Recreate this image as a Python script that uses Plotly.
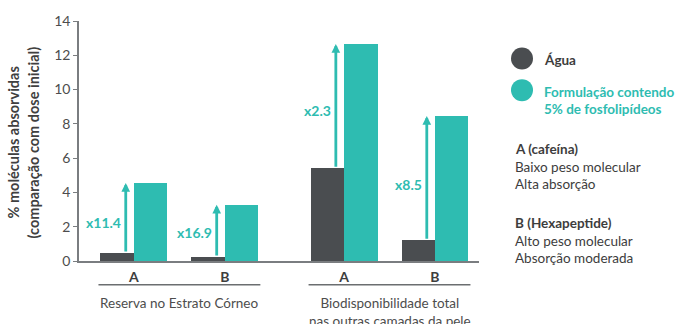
import plotly.graph_objects as go

# Data
groups = ["Reserva no Estrato Córneo", "Biodisponibilidade total<br>nas outras camadas da pele"]
categories = ["A", "B", "A", "B"]
agua = [0.46, 0.23, 5.41, 1.21]
formulacao = [4.55, 3.28, 12.66, 8.46]
ratios = ["x11.4", "x16.9", "x2.3", "x8.5"]
ratio_label_y = [2.25, 1.67, 8.8, 4.47]

DARK = "#4a4d50"
TEAL = "#2ebcb1"
TEXT = "#4d4d4d"
NOTE = "#3d3d3d"
FONT = "Lato"

# category centres: unit spacing within a group, wider gap between groups
gap = 1.31
xpos = [0, 1, 1 + gap, 2 + gap]
bw = 0.368

fig = go.Figure()
fig.add_trace(go.Bar(x=xpos, y=agua, width=bw, offset=-bw, marker_color=DARK,
                     marker_line_width=0, name="Água", showlegend=False))
fig.add_trace(go.Bar(x=xpos, y=formulacao, width=bw, offset=0, marker_color=TEAL,
                     marker_line_width=0, name="Formulação", showlegend=False))

annotations = []
shapes = []

# increase arrows from water bar to formulation bar
for xc, lo, hi, r, ly in zip(xpos, agua, formulacao, ratios, ratio_label_y):
    ax_x = xc - 0.09
    annotations.append(dict(x=ax_x, y=hi, ax=ax_x, ay=lo, xref="x", yref="y",
                            axref="x", ayref="y", text="", showarrow=True,
                            arrowhead=2, arrowsize=0.62, arrowwidth=2.8,
                            arrowcolor=TEAL, standoff=0, startstandoff=0))
    annotations.append(dict(x=ax_x, y=ly, xref="x", yref="y", text=f"<b>{r}</b>",
                            showarrow=False, xanchor="right", xshift=-3,
                            font=dict(family=FONT, size=14, color=TEAL)))

# group underlines and labels
for i, g in enumerate(groups):
    a, b = xpos[2 * i], xpos[2 * i + 1]
    shapes.append(dict(type="line", xref="x", yref="paper", x0=a - 0.39, x1=b + 0.39,
                       y0=-0.099, y1=-0.099, line=dict(color="#6b6e70", width=1.5)))
    annotations.append(dict(x=(a + b) / 2, y=-0.135, xref="x", yref="paper", text=g,
                            showarrow=False, yanchor="top", align="center",
                            font=dict(family=FONT, size=13.5, color=TEXT)))

# y-axis title in two lines
for txt, xs in [("% moléculas absorvidas", -66), ("(comparação com dose inicial)", -46)]:
    annotations.append(dict(x=0, y=0.494, xref="paper", yref="paper", text=f"<b>{txt}</b>",
                            textangle=-90, showarrow=False, xanchor="center", yanchor="middle",
                            xshift=xs, font=dict(family=FONT, size=14.5, color="#404040")))

# side legend and notes (paper coords from a 400x243 plot box)
def px(x):
    return (x - 79) / 400

def py(y):
    return (261 - y) / 243

for col, yy in [(DARK, 56), (TEAL, 88)]:
    shapes.append(dict(type="circle", xref="paper", yref="paper", xsizemode="pixel",
                       ysizemode="pixel", xanchor=px(522), yanchor=py(yy),
                       x0=-11, x1=11, y0=-11, y1=11, fillcolor=col, line_width=0))

notes = [
    ("<b>Água</b>", 542, 57, NOTE),
    ("<b>Formulação contendo</b>", 542, 90, TEAL),
    ("<b>5% de fosfolipídeos</b>", 542, 107, TEAL),
    ("<b>A (cafeína)</b>", 513, 148, NOTE),
    ("Baixo peso molecular", 513, 166, NOTE),
    ("Alta absorção", 513, 183, NOTE),
    ("<b>B (Hexapeptide)</b>", 513, 223, NOTE),
    ("Alto peso molecular", 513, 241, NOTE),
    ("Absorção moderada", 513, 258, NOTE),
]
for txt, x, y, col in notes:
    annotations.append(dict(x=px(x), y=py(y), xref="paper", yref="paper", text=txt,
                            showarrow=False, xanchor="left", yanchor="middle", align="left",
                            font=dict(family=FONT, size=13.5, color=col)))

fig.update_layout(
    width=675, height=324,
    margin=dict(l=79, r=196, t=18, b=63),
    paper_bgcolor="white", plot_bgcolor="white",
    bargap=0, showlegend=False,
    annotations=annotations, shapes=shapes,
    xaxis=dict(range=[-0.604, 2 + gap + 0.484], tickvals=xpos,
               ticktext=[f"<b>{c}</b>" for c in categories], ticks="", ticklabelstandoff=2,
               showline=True, linecolor="#7a7d80", linewidth=2, showgrid=False, zeroline=False,
               tickfont=dict(family=FONT, size=14, color=NOTE), fixedrange=True),
    yaxis=dict(range=[0, 14], dtick=2, ticks="outside", ticklen=4, tickcolor="#7a7d80",
               showline=True, linecolor="#7a7d80", linewidth=1.5, showgrid=False, zeroline=False,
               tickfont=dict(family=FONT, size=14, color=TEXT), fixedrange=True),
)

fig.write_html("out.html")
